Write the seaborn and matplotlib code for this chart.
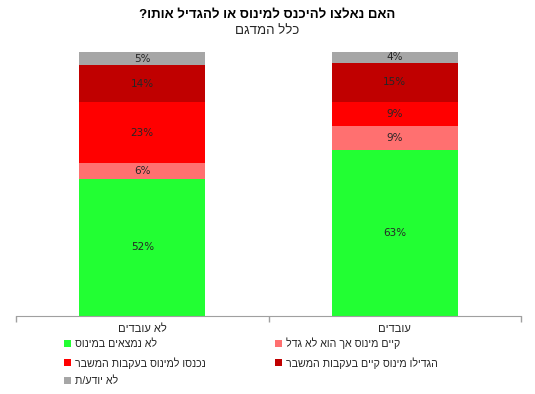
import numpy as np
import pandas as pd
import matplotlib
matplotlib.use("Agg")
import matplotlib.pyplot as plt
import seaborn as sns

# data
groups = ["לא עובדים", "עובדים"]
no_minus = [52, 63]
minus_not_grew = [6, 9]
entered_minus = [23, 9]
increased_minus = [14, 15]
dont_know = [5, 4]

layers = [
    ("לא נמצאים במינוס", no_minus, "#22FF33"),
    ("קיים מינוס אך הוא לא גדל", minus_not_grew, "#FF7070"),
    ("נכנסו למינוס בעקבות המשבר", entered_minus, "#FF0000"),
    ("הגדילו מינוס קיים בעקבות המשבר", increased_minus, "#C00000"),
    ("לא יודע/ת", dont_know, "#A6A6A6"),
]

title = "האם נאלצו להיכנס למינוס או להגדיל אותו?"
subtitle = "כלל המדגם"


def rtl(s):
    # matplotlib has no bidi support, so flip hebrew strings by hand
    return s[::-1]


sns.set_style("white")
plt.rcParams["font.family"] = ["Liberation Sans", "DejaVu Sans"]

fig = plt.figure(figsize=(5.35, 3.94), dpi=100)
ax = fig.add_axes([16 / 535, 1 - 316 / 394, 505 / 535, 264 / 394])

bottom = np.zeros(len(groups))
handles = {}
for name, vals, col in layers:
    df = pd.DataFrame({"group": groups, "value": vals})
    sns.barplot(data=df, x="group", y="value", color=col, bottom=bottom,
                width=0.5, ax=ax, saturation=1, linewidth=0, errorbar=None)
    cont = ax.containers[-1]
    ax.bar_label(cont, labels=[f"{v}%" for v in vals], label_type="center",
                 fontsize=7.5, color="#262626", family="DejaVu Sans")
    handles[name] = cont.patches[0]
    bottom = bottom + np.array(vals)

ax.set_xlim(-0.5, 1.5)
ax.set_ylim(0, 100)
ax.set_xlabel("")
ax.set_ylabel("")
ax.set_yticks([])
ax.set_xticks([0, 1])
ax.set_xticklabels([rtl(g) for g in groups], fontsize=8, color="#262626")
ax.set_xticks([-0.5, 0.5, 1.5], minor=True)
ax.tick_params(axis="x", which="major", length=0, pad=6)
ax.tick_params(axis="x", which="minor", length=4, color="#A0A0A0", width=1,
               bottom=True)
for s in ["top", "left", "right"]:
    ax.spines[s].set_visible(False)
ax.spines["bottom"].set_color("#A0A0A0")

# legend: left column green/red/grey, right column salmon/darkred
order = [0, 2, 4, 1, 3]
leg_h = [handles[layers[i][0]] for i in order]
leg_l = [rtl(layers[i][0]) for i in order]
fig.legend(leg_h, leg_l, ncol=2, loc="upper left",
           bbox_to_anchor=(54 / 535, 1 - 328 / 394), frameon=False,
           prop={"size": 7.7}, handlelength=0.65, handleheight=0.65,
           handletextpad=0.4, columnspacing=6.5, labelspacing=0.72,
           labelcolor="#262626")

fig.text(0.5, 1 - 15 / 394, rtl(title), ha="center", va="center",
         fontsize=9.5, fontweight="bold", color="black")
fig.text(0.5, 1 - 30.5 / 394, rtl(subtitle), ha="center", va="center",
         fontsize=9.5, color="#262626")

fig.savefig("out.png", dpi=100)
